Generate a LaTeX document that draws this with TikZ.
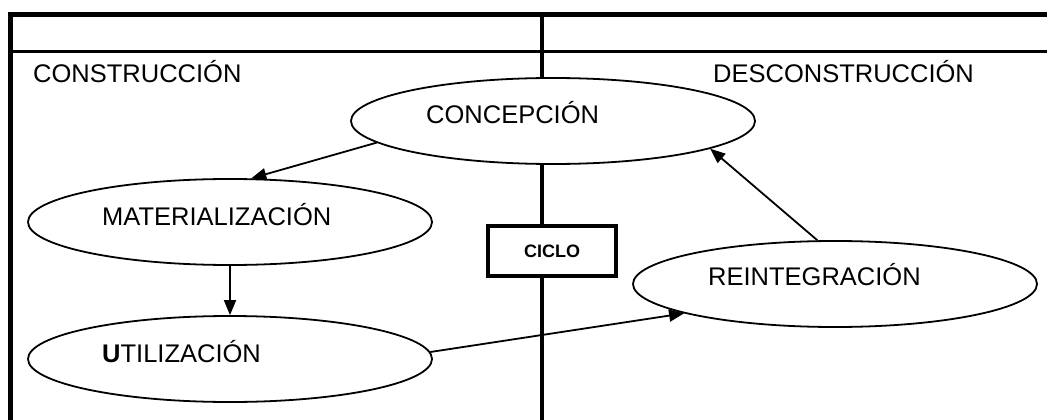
\documentclass[tikz,border=0pt]{standalone}
\usepackage{fontspec}
\setmainfont{Liberation Sans}
\usetikzlibrary{shapes.geometric,arrows.meta}
\begin{document}
\begin{tikzpicture}[x=1pt,y=-1pt,
  ell/.style={draw, ellipse, line width=1.8pt, fill=white, minimum width=404pt, minimum height=86pt, inner sep=0pt},
  lbl/.style={inner sep=0pt, anchor=base west, font=\fontsize{25.5}{30}\selectfont},
  cyclebox/.style={draw, line width=3.5pt, fill=white, minimum width=128pt, minimum height=50pt, inner sep=0pt},
  conn/.style={line width=1.8pt, -{Triangle[length=15pt,width=12pt]}}]
\useasboundingbox (0,0) rectangle (1047,420);
% frame
\draw[line width=5pt, line join=miter] (10.5,420) -- (10.5,14.5) -- (1047,14.5);
\draw[line width=3.5pt] (10.5,51.5) -- (1047,51.5);
\draw[line width=4pt] (542,14.5) -- (542,420);
% headings
\node[lbl] (hcon) at (33,82) {CONSTRUCCIÓN};
\node[lbl] (hdes) at (713,82) {DESCONSTRUCCIÓN};
% ellipses
\node[ell] (con) at (553,121) {};
\node[ell] (mat) at (230,222) {};
\node[ell] (uti) at (230,359) {};
\node[ell] (rei) at (835,284) {};
\node[lbl] (tcon) at (426,123) {CONCEPCIÓN};
\node[lbl] (tmat) at (102,225) {MATERIALIZACIÓN};
\node[lbl] (tuti) at (102,362) {\textbf{U}TILIZACIÓN};
\node[lbl] (trei) at (708,285) {REINTEGRACIÓN};
% cycle box
\node[cyclebox] (ciclo) at (552,251) {};
\node[inner sep=0pt, font=\bfseries\fontsize{18}{22}\selectfont] (tciclo) at (ciclo.center) {CICLO};
% connectors
\draw[conn] (con.187) -- (mat.64);
\draw[conn] (mat.south) -- (uti.north);
\draw[conn] (uti.2) -- (rei.191.5);
\draw[conn] (rei.112) -- (con.-10);
\end{tikzpicture}
\end{document}
